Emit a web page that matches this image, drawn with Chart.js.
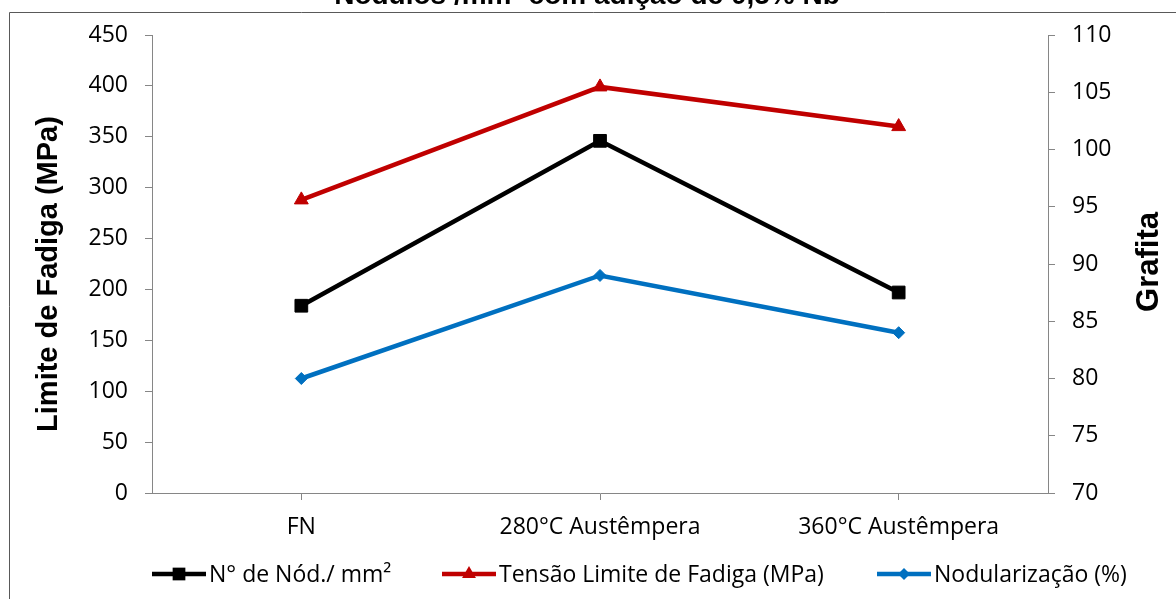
<!DOCTYPE html>
<html lang="pt">
<head>
<meta charset="utf-8">
<title>Nódulos /mm² com adição de 0,5% Nb</title>
<script src="https://cdn.jsdelivr.net/npm/chart.js@4/dist/chart.umd.min.js"></script>
<style>
  html, body { margin: 0; padding: 0; background: #ffffff; }
  canvas { display: block; }
</style>
</head>
<body>
<canvas id="grafico" width="1176" height="599"></canvas>
<script>
// Condições de tratamento (eixo das categorias)
const categorias = ['FN', '280°C Austêmpera', '360°C Austêmpera'];

// Séries
const nodulosPorMm2 = [184, 346, 197];        // eixo esquerdo
const tensaoLimiteFadiga = [288, 399, 360];   // eixo esquerdo (MPa)
const nodularizacao = [80, 89, 84];           // eixo direito (%)

// Faixas dos eixos
const eixoEsquerdo = { min: 0, max: 450, passo: 50 };
const eixoDireito = { min: 70, max: 110, passo: 5 };

// Textos
const tituloGrafico = 'Nódulos /mm² com adição de 0,5% Nb';
const tituloEixoEsquerdo = 'Limite de Fadiga (MPa)';
const tituloEixoDireito = 'Grafita';
const nomesSeries = ['N° de Nód./ mm²', 'Tensão Limite de Fadiga (MPa)', 'Nodularização (%)'];

const corEixo = '#868686';
const fonteTexto = '"Open Sans", "DejaVu Sans", sans-serif';
const fonteTitulo = '"Liberation Sans", Arial, sans-serif';

// Moldura, título e títulos dos eixos
const decoracao = {
  id: 'decoracao',
  beforeDraw(chart) {
    const ctx = chart.ctx;
    ctx.save();
    ctx.fillStyle = '#ffffff';
    ctx.fillRect(0, 0, chart.width, chart.height);
    ctx.strokeStyle = '#595959';
    ctx.lineWidth = 1;
    ctx.beginPath();
    ctx.moveTo(9.5, chart.height + 2);
    ctx.lineTo(9.5, 12.5);
    ctx.lineTo(chart.width + 2, 12.5);
    ctx.stroke();

    ctx.fillStyle = '#000000';
    ctx.font = 'bold 28px ' + fonteTitulo;
    ctx.textAlign = 'center';
    ctx.textBaseline = 'alphabetic';
    ctx.fillText(tituloGrafico, 587, 4);
    ctx.restore();
  },
  afterDraw(chart) {
    const ctx = chart.ctx;
    const area = chart.chartArea;
    const meio = (area.top + area.bottom) / 2;
    ctx.save();
    ctx.fillStyle = '#000000';
    ctx.textAlign = 'center';
    ctx.textBaseline = 'alphabetic';

    ctx.save();
    ctx.translate(57, meio + 10);
    ctx.rotate(-Math.PI / 2);
    ctx.font = 'bold 29px ' + fonteTitulo;
    ctx.fillText(tituloEixoEsquerdo, 0, 0);
    ctx.restore();

    ctx.save();
    ctx.translate(1158, meio - 2);
    ctx.rotate(-Math.PI / 2);
    ctx.font = 'bold 31px ' + fonteTitulo;
    ctx.fillText(tituloEixoDireito, 0, 0);
    ctx.restore();
    ctx.restore();
  }
};

// Legenda com linha e marcador de cada série
function desenharMarcador(ctx, estilo, x, y, r) {
  ctx.beginPath();
  if (estilo === 'rect') {
    const s = r * Math.SQRT1_2;
    ctx.rect(x - s, y - s, 2 * s, 2 * s);
  } else if (estilo === 'triangle') {
    ctx.moveTo(x, y - r);
    ctx.lineTo(x + r * Math.sqrt(3) / 2, y + r / 2);
    ctx.lineTo(x - r * Math.sqrt(3) / 2, y + r / 2);
    ctx.closePath();
  } else {
    ctx.moveTo(x, y - r);
    ctx.lineTo(x + r, y);
    ctx.lineTo(x, y + r);
    ctx.lineTo(x - r, y);
    ctx.closePath();
  }
  ctx.fill();
}

const legenda = {
  id: 'legendaLinhas',
  afterDraw(chart) {
    const ctx = chart.ctx;
    const inicios = [152, 442, 877];
    const yLeg = 574;
    ctx.save();
    ctx.font = '23px ' + fonteTexto;
    ctx.textAlign = 'left';
    ctx.textBaseline = 'middle';
    chart.data.datasets.forEach((ds, i) => {
      const x0 = inicios[i];
      ctx.strokeStyle = ds.borderColor;
      ctx.lineWidth = ds.borderWidth;
      ctx.beginPath();
      ctx.moveTo(x0, yLeg);
      ctx.lineTo(x0 + 54, yLeg);
      ctx.stroke();
      ctx.fillStyle = ds.pointBackgroundColor;
      desenharMarcador(ctx, ds.pointStyle, x0 + 27, yLeg, ds.pointRadius);
      ctx.fillStyle = '#000000';
      ctx.fillText(nomesSeries[i], x0 + 57, yLeg + 1);
    });
    ctx.restore();
  }
};

function serie(rotulo, dados, cor, marcador, raio, eixo) {
  return {
    label: rotulo,
    data: dados,
    yAxisID: eixo,
    borderColor: cor,
    backgroundColor: cor,
    pointBackgroundColor: cor,
    pointBorderColor: cor,
    pointBorderWidth: 1,
    borderWidth: 4.5,
    pointStyle: marcador,
    pointRadius: raio,
    pointHoverRadius: raio,
    tension: 0,
    fill: false
  };
}

new Chart(document.getElementById('grafico'), {
  type: 'line',
  data: {
    labels: categorias,
    datasets: [
      serie(nomesSeries[0], nodulosPorMm2, '#000000', 'rect', 9, 'y'),
      serie(nomesSeries[1], tensaoLimiteFadiga, '#C00000', 'triangle', 8, 'y'),
      serie(nomesSeries[2], nodularizacao, '#0070C0', 'rectRot', 6, 'y2')
    ]
  },
  plugins: [decoracao, legenda],
  options: {
    responsive: false,
    animation: false,
    devicePixelRatio: 1,
    layout: { padding: { top: 35, left: 0, right: 0, bottom: 0 } },
    plugins: {
      legend: { display: false },
      title: { display: false },
      tooltip: { enabled: false }
    },
    scales: {
      x: {
        type: 'category',
        offset: true,
        border: { display: true, color: corEixo, width: 1 },
        grid: { display: true, offset: false, drawOnChartArea: false, drawTicks: true, tickLength: 7, color: corEixo },
        ticks: { color: '#000000', font: { family: fonteTexto, size: 23 }, padding: 14, maxRotation: 0 },
        afterFit(scale) { scale.height = 106; }
      },
      y: {
        type: 'linear',
        position: 'left',
        min: eixoEsquerdo.min,
        max: eixoEsquerdo.max,
        border: { display: true, color: corEixo, width: 1 },
        grid: { display: true, drawOnChartArea: false, drawTicks: true, tickLength: 7, color: corEixo },
        ticks: { stepSize: eixoEsquerdo.passo, color: '#000000', font: { family: fonteTexto, size: 23 }, padding: 17 },
        afterFit(scale) { scale.width = 152; }
      },
      y2: {
        type: 'linear',
        position: 'right',
        min: eixoDireito.min,
        max: eixoDireito.max,
        border: { display: true, color: corEixo, width: 1 },
        grid: { display: true, drawOnChartArea: false, drawTicks: true, tickLength: 7, color: corEixo },
        ticks: { stepSize: eixoDireito.passo, color: '#000000', font: { family: fonteTexto, size: 23 }, padding: 17 },
        afterFit(scale) { scale.width = 128; }
      }
    }
  }
});
</script>
</body>
</html>
